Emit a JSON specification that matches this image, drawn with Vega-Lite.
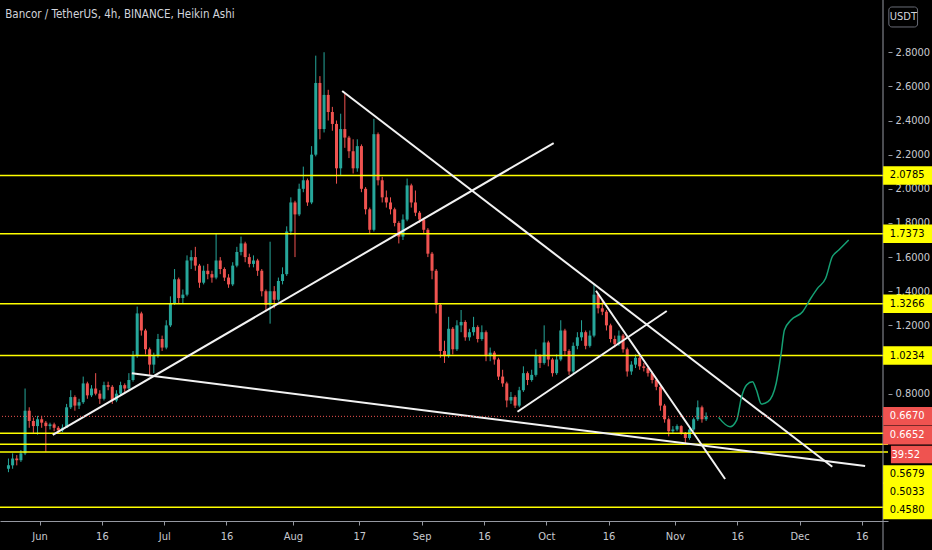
{
  "$schema": "https://vega.github.io/schema/vega-lite/v6.json",
  "width": 888,
  "height": 521,
  "autosize": {"type": "none"},
  "padding": {"left": 0, "top": 0, "right": 44, "bottom": 29},
  "background": "#000000",
  "title": {
    "text": "Bancor / TetherUS, 4h, BINANCE, Heikin Ashi",
    "anchor": "start",
    "offset": -21,
    "dx": 6,
    "fontSize": 11.5,
    "fontWeight": "normal",
    "font": "Liberation Sans Narrow, DejaVu Sans Condensed, sans-serif",
    "color": "#d1d4dc"
  },
  "config": {
    "view": {"stroke": null},
    "text": {"font": "Liberation Sans Narrow, DejaVu Sans Condensed, sans-serif"}
  },
  "datasets": {
    "candles": [
      {"t":"2020-05-24T12:00","o":0.36,"h":0.42,"l":0.34,"c":0.38},
      {"t":"2020-05-25T12:00","o":0.38,"h":0.45,"l":0.36,"c":0.42},
      {"t":"2020-05-26T12:00","o":0.42,"h":0.44,"l":0.38,"c":0.41},
      {"t":"2020-05-27T12:00","o":0.41,"h":0.47,"l":0.40,"c":0.45},
      {"t":"2020-05-28T12:00","o":0.45,"h":0.83,"l":0.44,"c":0.70},
      {"t":"2020-05-29T12:00","o":0.70,"h":0.72,"l":0.60,"c":0.64},
      {"t":"2020-05-30T12:00","o":0.64,"h":0.66,"l":0.57,"c":0.61},
      {"t":"2020-05-31T12:00","o":0.61,"h":0.67,"l":0.56,"c":0.65},
      {"t":"2020-06-01T12:00","o":0.65,"h":0.67,"l":0.60,"c":0.63},
      {"t":"2020-06-02T12:00","o":0.63,"h":0.64,"l":0.46,"c":0.61},
      {"t":"2020-06-03T12:00","o":0.61,"h":0.63,"l":0.59,"c":0.62},
      {"t":"2020-06-04T12:00","o":0.62,"h":0.63,"l":0.58,"c":0.60},
      {"t":"2020-06-05T12:00","o":0.60,"h":0.61,"l":0.57,"c":0.585},
      {"t":"2020-06-06T12:00","o":0.585,"h":0.62,"l":0.575,"c":0.60},
      {"t":"2020-06-07T12:00","o":0.60,"h":0.74,"l":0.60,"c":0.72},
      {"t":"2020-06-08T12:00","o":0.72,"h":0.82,"l":0.71,"c":0.78},
      {"t":"2020-06-09T12:00","o":0.78,"h":0.79,"l":0.70,"c":0.73},
      {"t":"2020-06-10T12:00","o":0.73,"h":0.77,"l":0.71,"c":0.75},
      {"t":"2020-06-11T12:00","o":0.75,"h":0.90,"l":0.74,"c":0.86},
      {"t":"2020-06-12T12:00","o":0.86,"h":0.87,"l":0.77,"c":0.79},
      {"t":"2020-06-13T12:00","o":0.79,"h":0.85,"l":0.78,"c":0.83},
      {"t":"2020-06-14T12:00","o":0.83,"h":0.92,"l":0.79,"c":0.80},
      {"t":"2020-06-15T12:00","o":0.80,"h":0.82,"l":0.74,"c":0.77},
      {"t":"2020-06-16T12:00","o":0.77,"h":0.87,"l":0.76,"c":0.85},
      {"t":"2020-06-17T12:00","o":0.85,"h":0.87,"l":0.82,"c":0.84},
      {"t":"2020-06-18T12:00","o":0.84,"h":0.85,"l":0.74,"c":0.76},
      {"t":"2020-06-19T12:00","o":0.76,"h":0.82,"l":0.75,"c":0.80},
      {"t":"2020-06-20T12:00","o":0.80,"h":0.87,"l":0.79,"c":0.85},
      {"t":"2020-06-21T12:00","o":0.85,"h":0.86,"l":0.81,"c":0.83},
      {"t":"2020-06-22T12:00","o":0.83,"h":0.92,"l":0.82,"c":0.88},
      {"t":"2020-06-23T12:00","o":0.88,"h":1.05,"l":0.87,"c":1.02},
      {"t":"2020-06-24T12:00","o":1.02,"h":1.31,"l":1.01,"c":1.27},
      {"t":"2020-06-25T12:00","o":1.27,"h":1.28,"l":1.14,"c":1.17},
      {"t":"2020-06-26T12:00","o":1.17,"h":1.18,"l":1.03,"c":1.06},
      {"t":"2020-06-27T12:00","o":1.06,"h":1.07,"l":0.91,"c":0.97},
      {"t":"2020-06-28T12:00","o":0.97,"h":1.04,"l":0.92,"c":1.02},
      {"t":"2020-06-29T12:00","o":1.02,"h":1.15,"l":1.01,"c":1.12},
      {"t":"2020-06-30T12:00","o":1.12,"h":1.14,"l":1.05,"c":1.07},
      {"t":"2020-07-01T12:00","o":1.07,"h":1.23,"l":1.06,"c":1.20},
      {"t":"2020-07-02T12:00","o":1.20,"h":1.37,"l":1.19,"c":1.33},
      {"t":"2020-07-03T12:00","o":1.33,"h":1.53,"l":1.32,"c":1.47},
      {"t":"2020-07-04T12:00","o":1.47,"h":1.48,"l":1.33,"c":1.36},
      {"t":"2020-07-05T12:00","o":1.36,"h":1.41,"l":1.33,"c":1.38},
      {"t":"2020-07-06T12:00","o":1.38,"h":1.61,"l":1.37,"c":1.58},
      {"t":"2020-07-07T12:00","o":1.58,"h":1.64,"l":1.53,"c":1.60},
      {"t":"2020-07-08T12:00","o":1.60,"h":1.66,"l":1.52,"c":1.55},
      {"t":"2020-07-09T12:00","o":1.55,"h":1.56,"l":1.42,"c":1.45},
      {"t":"2020-07-10T12:00","o":1.45,"h":1.55,"l":1.44,"c":1.52},
      {"t":"2020-07-11T12:00","o":1.52,"h":1.56,"l":1.47,"c":1.50},
      {"t":"2020-07-12T12:00","o":1.50,"h":1.52,"l":1.45,"c":1.48},
      {"t":"2020-07-13T12:00","o":1.48,"h":1.74,"l":1.47,"c":1.58},
      {"t":"2020-07-14T12:00","o":1.58,"h":1.60,"l":1.50,"c":1.53},
      {"t":"2020-07-15T12:00","o":1.53,"h":1.54,"l":1.46,"c":1.48},
      {"t":"2020-07-16T12:00","o":1.48,"h":1.50,"l":1.42,"c":1.44},
      {"t":"2020-07-17T12:00","o":1.44,"h":1.57,"l":1.43,"c":1.55},
      {"t":"2020-07-18T12:00","o":1.55,"h":1.66,"l":1.54,"c":1.63},
      {"t":"2020-07-19T12:00","o":1.63,"h":1.72,"l":1.61,"c":1.68},
      {"t":"2020-07-20T12:00","o":1.68,"h":1.69,"l":1.57,"c":1.60},
      {"t":"2020-07-21T12:00","o":1.60,"h":1.62,"l":1.54,"c":1.56},
      {"t":"2020-07-22T12:00","o":1.56,"h":1.61,"l":1.54,"c":1.58},
      {"t":"2020-07-23T12:00","o":1.58,"h":1.59,"l":1.49,"c":1.52},
      {"t":"2020-07-24T12:00","o":1.52,"h":1.53,"l":1.37,"c":1.40},
      {"t":"2020-07-25T12:00","o":1.40,"h":1.41,"l":1.28,"c":1.32},
      {"t":"2020-07-26T12:00","o":1.32,"h":1.69,"l":1.21,"c":1.40},
      {"t":"2020-07-27T12:00","o":1.40,"h":1.43,"l":1.30,"c":1.35},
      {"t":"2020-07-28T12:00","o":1.35,"h":1.48,"l":1.34,"c":1.46},
      {"t":"2020-07-29T12:00","o":1.46,"h":1.54,"l":1.44,"c":1.50},
      {"t":"2020-07-30T12:00","o":1.50,"h":1.78,"l":1.49,"c":1.75},
      {"t":"2020-07-31T12:00","o":1.75,"h":1.95,"l":1.73,"c":1.92},
      {"t":"2020-08-01T12:00","o":1.92,"h":1.93,"l":1.60,"c":1.85},
      {"t":"2020-08-02T12:00","o":1.85,"h":2.03,"l":1.84,"c":2.00},
      {"t":"2020-08-03T12:00","o":2.00,"h":2.13,"l":1.98,"c":2.05},
      {"t":"2020-08-04T12:00","o":2.05,"h":2.06,"l":1.90,"c":1.92},
      {"t":"2020-08-05T12:00","o":1.92,"h":2.25,"l":1.91,"c":2.20},
      {"t":"2020-08-06T12:00","o":2.20,"h":2.78,"l":2.19,"c":2.62},
      {"t":"2020-08-07T12:00","o":2.62,"h":2.66,"l":2.29,"c":2.35},
      {"t":"2020-08-08T12:00","o":2.35,"h":2.80,"l":2.33,"c":2.55},
      {"t":"2020-08-09T12:00","o":2.55,"h":2.58,"l":2.40,"c":2.45},
      {"t":"2020-08-10T12:00","o":2.45,"h":2.48,"l":2.34,"c":2.38},
      {"t":"2020-08-11T12:00","o":2.38,"h":2.40,"l":2.03,"c":2.12},
      {"t":"2020-08-12T12:00","o":2.12,"h":2.44,"l":2.08,"c":2.35},
      {"t":"2020-08-13T12:00","o":2.35,"h":2.56,"l":2.24,"c":2.30},
      {"t":"2020-08-14T12:00","o":2.30,"h":2.31,"l":2.18,"c":2.22},
      {"t":"2020-08-15T12:00","o":2.22,"h":2.29,"l":2.09,"c":2.12},
      {"t":"2020-08-16T12:00","o":2.12,"h":2.29,"l":2.10,"c":2.25},
      {"t":"2020-08-17T12:00","o":2.25,"h":2.26,"l":1.98,"c":2.00},
      {"t":"2020-08-18T12:00","o":2.00,"h":2.01,"l":1.85,"c":1.88},
      {"t":"2020-08-19T12:00","o":1.88,"h":1.89,"l":1.74,"c":1.76},
      {"t":"2020-08-20T12:00","o":1.76,"h":2.41,"l":1.75,"c":2.32},
      {"t":"2020-08-21T12:00","o":2.32,"h":2.33,"l":2.02,"c":2.05},
      {"t":"2020-08-22T12:00","o":2.05,"h":2.07,"l":1.92,"c":1.95},
      {"t":"2020-08-23T12:00","o":1.95,"h":1.99,"l":1.89,"c":1.92},
      {"t":"2020-08-24T12:00","o":1.92,"h":1.95,"l":1.85,"c":1.88},
      {"t":"2020-08-25T12:00","o":1.88,"h":1.89,"l":1.78,"c":1.80},
      {"t":"2020-08-26T12:00","o":1.80,"h":1.81,"l":1.68,"c":1.72},
      {"t":"2020-08-27T12:00","o":1.72,"h":1.85,"l":1.70,"c":1.82},
      {"t":"2020-08-28T12:00","o":1.82,"h":2.06,"l":1.81,"c":2.02},
      {"t":"2020-08-29T12:00","o":2.02,"h":2.03,"l":1.89,"c":1.92},
      {"t":"2020-08-30T12:00","o":1.92,"h":1.99,"l":1.84,"c":1.86},
      {"t":"2020-08-31T12:00","o":1.86,"h":1.87,"l":1.80,"c":1.82},
      {"t":"2020-09-01T12:00","o":1.82,"h":1.83,"l":1.74,"c":1.76},
      {"t":"2020-09-02T12:00","o":1.76,"h":1.77,"l":1.60,"c":1.62},
      {"t":"2020-09-03T12:00","o":1.62,"h":1.63,"l":1.47,"c":1.52},
      {"t":"2020-09-04T12:00","o":1.52,"h":1.53,"l":1.27,"c":1.32},
      {"t":"2020-09-05T12:00","o":1.32,"h":1.33,"l":1.01,"c":1.05},
      {"t":"2020-09-06T12:00","o":1.05,"h":1.11,"l":0.98,"c":1.02},
      {"t":"2020-09-07T12:00","o":1.02,"h":1.25,"l":1.01,"c":1.18},
      {"t":"2020-09-08T12:00","o":1.18,"h":1.19,"l":1.03,"c":1.06},
      {"t":"2020-09-09T12:00","o":1.06,"h":1.23,"l":1.05,"c":1.20},
      {"t":"2020-09-10T12:00","o":1.20,"h":1.29,"l":1.16,"c":1.22},
      {"t":"2020-09-11T12:00","o":1.22,"h":1.23,"l":1.11,"c":1.13},
      {"t":"2020-09-12T12:00","o":1.13,"h":1.18,"l":1.11,"c":1.16},
      {"t":"2020-09-13T12:00","o":1.16,"h":1.25,"l":1.14,"c":1.19},
      {"t":"2020-09-14T12:00","o":1.19,"h":1.20,"l":1.10,"c":1.12},
      {"t":"2020-09-15T12:00","o":1.12,"h":1.20,"l":1.11,"c":1.16},
      {"t":"2020-09-16T12:00","o":1.16,"h":1.17,"l":0.99,"c":1.02},
      {"t":"2020-09-17T12:00","o":1.02,"h":1.07,"l":0.99,"c":1.04},
      {"t":"2020-09-18T12:00","o":1.04,"h":1.05,"l":0.97,"c":1.00},
      {"t":"2020-09-19T12:00","o":1.00,"h":1.01,"l":0.88,"c":0.90},
      {"t":"2020-09-20T12:00","o":0.90,"h":0.94,"l":0.84,"c":0.86},
      {"t":"2020-09-21T12:00","o":0.86,"h":0.87,"l":0.72,"c":0.76},
      {"t":"2020-09-22T12:00","o":0.76,"h":0.81,"l":0.74,"c":0.78},
      {"t":"2020-09-23T12:00","o":0.78,"h":0.79,"l":0.716,"c":0.73},
      {"t":"2020-09-24T12:00","o":0.73,"h":0.84,"l":0.72,"c":0.82},
      {"t":"2020-09-25T12:00","o":0.82,"h":0.96,"l":0.81,"c":0.92},
      {"t":"2020-09-26T12:00","o":0.92,"h":0.93,"l":0.85,"c":0.88},
      {"t":"2020-09-27T12:00","o":0.88,"h":0.94,"l":0.87,"c":0.91},
      {"t":"2020-09-28T12:00","o":0.91,"h":1.06,"l":0.90,"c":1.02},
      {"t":"2020-09-29T12:00","o":1.02,"h":1.03,"l":0.95,"c":0.98},
      {"t":"2020-09-30T12:00","o":0.98,"h":1.20,"l":0.97,"c":1.10},
      {"t":"2020-10-01T12:00","o":1.10,"h":1.11,"l":0.96,"c":1.00},
      {"t":"2020-10-02T12:00","o":1.00,"h":1.01,"l":0.90,"c":0.92},
      {"t":"2020-10-03T12:00","o":0.92,"h":1.03,"l":0.91,"c":1.00},
      {"t":"2020-10-04T12:00","o":1.00,"h":1.23,"l":0.99,"c":1.17},
      {"t":"2020-10-05T12:00","o":1.17,"h":1.18,"l":1.02,"c":1.05},
      {"t":"2020-10-06T12:00","o":1.05,"h":1.06,"l":0.91,"c":0.93},
      {"t":"2020-10-07T12:00","o":0.93,"h":1.10,"l":0.92,"c":1.08},
      {"t":"2020-10-08T12:00","o":1.08,"h":1.16,"l":1.06,"c":1.13},
      {"t":"2020-10-09T12:00","o":1.13,"h":1.23,"l":1.11,"c":1.16},
      {"t":"2020-10-10T12:00","o":1.16,"h":1.17,"l":1.06,"c":1.08},
      {"t":"2020-10-11T12:00","o":1.08,"h":1.17,"l":1.07,"c":1.14},
      {"t":"2020-10-12T12:00","o":1.14,"h":1.44,"l":1.13,"c":1.38},
      {"t":"2020-10-13T12:00","o":1.38,"h":1.39,"l":1.27,"c":1.30},
      {"t":"2020-10-14T12:00","o":1.30,"h":1.35,"l":1.26,"c":1.28},
      {"t":"2020-10-15T12:00","o":1.28,"h":1.29,"l":1.17,"c":1.20},
      {"t":"2020-10-16T12:00","o":1.20,"h":1.21,"l":1.10,"c":1.12},
      {"t":"2020-10-17T12:00","o":1.12,"h":1.14,"l":1.07,"c":1.09},
      {"t":"2020-10-18T12:00","o":1.09,"h":1.17,"l":1.08,"c":1.14},
      {"t":"2020-10-19T12:00","o":1.14,"h":1.15,"l":1.04,"c":1.06},
      {"t":"2020-10-20T12:00","o":1.06,"h":1.07,"l":0.90,"c":0.93},
      {"t":"2020-10-21T12:00","o":0.93,"h":0.99,"l":0.91,"c":0.97},
      {"t":"2020-10-22T12:00","o":0.97,"h":1.03,"l":0.95,"c":1.01},
      {"t":"2020-10-23T12:00","o":1.01,"h":1.02,"l":0.94,"c":0.96},
      {"t":"2020-10-24T12:00","o":0.96,"h":0.98,"l":0.93,"c":0.95},
      {"t":"2020-10-25T12:00","o":0.95,"h":0.96,"l":0.90,"c":0.92},
      {"t":"2020-10-26T12:00","o":0.92,"h":0.93,"l":0.86,"c":0.88},
      {"t":"2020-10-27T12:00","o":0.88,"h":0.89,"l":0.82,"c":0.84},
      {"t":"2020-10-28T12:00","o":0.84,"h":0.85,"l":0.70,"c":0.73},
      {"t":"2020-10-29T12:00","o":0.73,"h":0.74,"l":0.63,"c":0.65},
      {"t":"2020-10-30T12:00","o":0.65,"h":0.66,"l":0.55,"c":0.58},
      {"t":"2020-10-31T12:00","o":0.58,"h":0.61,"l":0.57,"c":0.59},
      {"t":"2020-11-01T12:00","o":0.59,"h":0.62,"l":0.58,"c":0.61},
      {"t":"2020-11-02T12:00","o":0.61,"h":0.615,"l":0.56,"c":0.57},
      {"t":"2020-11-03T12:00","o":0.57,"h":0.575,"l":0.51,"c":0.54},
      {"t":"2020-11-04T12:00","o":0.54,"h":0.60,"l":0.53,"c":0.59},
      {"t":"2020-11-05T12:00","o":0.59,"h":0.66,"l":0.58,"c":0.65},
      {"t":"2020-11-06T12:00","o":0.65,"h":0.76,"l":0.64,"c":0.72},
      {"t":"2020-11-07T12:00","o":0.72,"h":0.73,"l":0.63,"c":0.65},
      {"t":"2020-11-08T12:00","o":0.65,"h":0.69,"l":0.64,"c":0.667}
    ],
    "levels": [
      {"p": 2.0785}, {"p": 1.7373}, {"p": 1.3266}, {"p": 1.0234},
      {"p": 0.5679}, {"p": 0.5033}, {"p": 0.458}, {"p": 0.134}
    ],
    "lines": [
      {"id": 1, "t": "2020-06-04T04:00", "p": 0.558},
      {"id": 1, "t": "2020-10-02T19:00", "p": 2.268},
      {"id": 2, "t": "2020-08-12T20:40", "p": 2.573},
      {"id": 2, "t": "2020-12-08T21:00", "p": 0.372},
      {"id": 3, "t": "2020-06-23T05:00", "p": 0.919},
      {"id": 3, "t": "2020-12-16T19:00", "p": 0.376},
      {"id": 4, "t": "2020-09-24T01:40", "p": 0.694},
      {"id": 4, "t": "2020-10-30T00:30", "p": 1.284},
      {"id": 5, "t": "2020-10-12T23:30", "p": 1.403},
      {"id": 5, "t": "2020-11-13T01:40", "p": 0.300}
    ],
    "path": [
      {"t": "2020-11-11T12:00", "p": 0.661},
      {"t": "2020-11-14T06:15", "p": 0.606},
      {"t": "2020-11-15T20:40", "p": 0.645},
      {"t": "2020-11-17T01:10", "p": 0.782},
      {"t": "2020-11-18T05:45", "p": 0.851},
      {"t": "2020-11-19T16:00", "p": 0.870},
      {"t": "2020-11-20T15:00", "p": 0.821},
      {"t": "2020-11-21T19:25", "p": 0.739},
      {"t": "2020-11-23T09:40", "p": 0.753},
      {"t": "2020-11-25T09:00", "p": 0.861},
      {"t": "2020-11-26T13:40", "p": 1.036},
      {"t": "2020-11-27T08:40", "p": 1.173},
      {"t": "2020-11-28T22:50", "p": 1.231},
      {"t": "2020-12-01T17:45", "p": 1.280},
      {"t": "2020-12-03T17:00", "p": 1.359},
      {"t": "2020-12-05T07:25", "p": 1.417},
      {"t": "2020-12-07T07:00", "p": 1.476},
      {"t": "2020-12-08T21:00", "p": 1.602},
      {"t": "2020-12-10T10:50", "p": 1.641},
      {"t": "2020-12-12T20:00", "p": 1.700}
    ],
    "tags": [
      {"txt": "2.0785", "at": 2.0785, "kind": "level"},
      {"txt": "1.7373", "at": 1.7373, "kind": "level"},
      {"txt": "1.3266", "at": 1.3266, "kind": "level"},
      {"txt": "1.0234", "at": 1.0234, "kind": "level"},
      {"txt": "0.6670", "at": 0.667, "kind": "price"},
      {"txt": "0.6652", "at": 0.556, "kind": "price"},
      {"txt": "39:52", "at": 0.443, "kind": "timer"},
      {"txt": "0.5679", "at": 0.327, "kind": "level"},
      {"txt": "0.5033", "at": 0.225, "kind": "level"},
      {"txt": "0.4580", "at": 0.118, "kind": "level"}
    ]
  },
  "layer": [
    {
      "data": {"name": "candles"},
      "mark": {"type": "rule", "strokeWidth": 1},
      "encoding": {
        "x": {
          "field": "t", "type": "temporal",
          "scale": {"domain": [
            {"year": 2020, "month": 5, "date": 23, "hours": 16},
            {"year": 2020, "month": 12, "date": 21, "hours": 2, "minutes": 17}
          ]},
          "axis": {
            "orient": "bottom", "title": null, "grid": false,
            "values": [
              {"year": 2020, "month": 6, "date": 1}, {"year": 2020, "month": 6, "date": 16},
              {"year": 2020, "month": 7, "date": 1}, {"year": 2020, "month": 7, "date": 16},
              {"year": 2020, "month": 8, "date": 1}, {"year": 2020, "month": 8, "date": 17},
              {"year": 2020, "month": 9, "date": 1}, {"year": 2020, "month": 9, "date": 16},
              {"year": 2020, "month": 10, "date": 1}, {"year": 2020, "month": 10, "date": 16},
              {"year": 2020, "month": 11, "date": 1}, {"year": 2020, "month": 11, "date": 16},
              {"year": 2020, "month": 12, "date": 1}, {"year": 2020, "month": 12, "date": 16}
            ],
            "labelExpr": "date(datum.value) == 1 ? timeFormat(datum.value, '%b') : timeFormat(datum.value, '%-d')",
            "domainColor": "#9598a1", "tickColor": "#9598a1", "tickSize": 4,
            "labelColor": "#c8cad0", "labelFontSize": 11, "labelPadding": 5,
            "labelFont": "Liberation Sans Narrow, DejaVu Sans Condensed, sans-serif",
            "labelOverlap": false, "labelFlush": false
          }
        },
        "y": {
          "field": "l", "type": "quantitative",
          "scale": {"domain": [0.054, 3.106], "nice": false, "zero": false},
          "axis": {
            "orient": "right", "title": null, "grid": false, "domain": false,
            "values": [0.8, 1.2, 1.4, 1.6, 1.8, 2.0, 2.2, 2.4, 2.6, 2.8],
            "format": ".4f",
            "tickColor": "#9598a1", "tickSize": 4,
            "labelColor": "#c8cad0", "labelFontSize": 11, "labelPadding": 3,
            "labelOverlap": false, "labelFlush": false,
            "labelFont": "Liberation Sans Narrow, DejaVu Sans Condensed, sans-serif"
          }
        },
        "y2": {"field": "h"},
        "color": {"condition": {"test": "datum.c >= datum.o", "value": "#26a69a"}, "value": "#ef5350"}
      }
    },
    {
      "data": {"name": "candles"},
      "mark": {"type": "bar", "width": 3},
      "encoding": {
        "x": {"field": "t", "type": "temporal"},
        "y": {"field": "o", "type": "quantitative"},
        "y2": {"field": "c"},
        "color": {"condition": {"test": "datum.c >= datum.o", "value": "#26a69a"}, "value": "#ef5350"}
      }
    },
    {
      "data": {"name": "levels"},
      "mark": {"type": "rule", "color": "#ffff00", "strokeWidth": 1.5},
      "encoding": {"y": {"field": "p", "type": "quantitative"}}
    },
    {
      "data": {"name": "lines"},
      "mark": {"type": "line", "color": "#f2f2f2", "strokeWidth": 2},
      "encoding": {
        "x": {"field": "t", "type": "temporal"},
        "y": {"field": "p", "type": "quantitative"},
        "detail": {"field": "id"}
      }
    },
    {
      "data": {"name": "path"},
      "mark": {"type": "line", "color": "#15a074", "strokeWidth": 1.5, "interpolate": "monotone"},
      "encoding": {
        "x": {"field": "t", "type": "temporal"},
        "y": {"field": "p", "type": "quantitative"}
      }
    },
    {
      "data": {"values": [{}]},
      "mark": {"type": "rule", "color": "#ef5350", "strokeWidth": 1, "strokeDash": [1, 2]},
      "encoding": {"y": {"datum": 0.667, "type": "quantitative"}}
    },
    {
      "data": {"values": [{}]},
      "mark": {"type": "rule", "color": "#9598a1", "strokeWidth": 1},
      "encoding": {
        "x": {"datum": {"year": 2020, "month": 12, "date": 21, "hours": 2, "minutes": 17}, "type": "temporal"},
        "y": {"datum": 3.106, "type": "quantitative"},
        "y2": {"datum": -0.116}
      }
    },
    {
      "data": {"name": "tags"},
      "transform": [{"filter": "datum.kind != 'timer'"}],
      "mark": {"type": "rule", "strokeWidth": 18.5, "strokeCap": "butt"},
      "encoding": {
        "x": {"datum": {"year": 2020, "month": 12, "date": 21, "hours": 3}, "type": "temporal"},
        "x2": {"datum": {"year": 2021, "month": 1, "date": 3}},
        "y": {"field": "at", "type": "quantitative"},
        "color": {"condition": {"test": "datum.kind == 'price'", "value": "#ef5350"}, "value": "#ffff00"}
      }
    },
    {
      "data": {"name": "tags"},
      "transform": [{"filter": "datum.kind == 'timer'"}],
      "mark": {"type": "rule", "strokeWidth": 17.5, "strokeCap": "butt", "color": "#ef5350"},
      "encoding": {
        "x": {"datum": {"year": 2020, "month": 12, "date": 23}, "type": "temporal"},
        "x2": {"datum": {"year": 2021, "month": 1, "date": 3}},
        "y": {"field": "at", "type": "quantitative"}
      }
    },
    {
      "data": {"name": "tags"},
      "transform": [{"filter": "datum.kind != 'timer'"}],
      "mark": {"type": "text", "align": "left", "baseline": "middle", "fontSize": 11},
      "encoding": {
        "x": {"datum": {"year": 2020, "month": 12, "date": 22, "hours": 18}, "type": "temporal"},
        "y": {"field": "at", "type": "quantitative"},
        "text": {"field": "txt"},
        "color": {"condition": {"test": "datum.kind == 'price'", "value": "#ffffff"}, "value": "#000000"}
      }
    },
    {
      "data": {"name": "tags"},
      "transform": [{"filter": "datum.kind == 'timer'"}],
      "mark": {"type": "text", "align": "center", "baseline": "middle", "fontSize": 11, "color": "#ffffff"},
      "encoding": {
        "x": {"datum": {"year": 2020, "month": 12, "date": 26, "hours": 14}, "type": "temporal"},
        "y": {"field": "at", "type": "quantitative"},
        "text": {"field": "txt"}
      }
    },
    {
      "data": {"values": [{"unit": "USDT"}]},
      "mark": {"type": "rect", "fill": "#000000", "stroke": "#6a6d78", "strokeWidth": 1, "cornerRadius": 3},
      "encoding": {
        "x": {"datum": {"year": 2020, "month": 12, "date": 22, "hours": 12}, "type": "temporal"},
        "x2": {"datum": {"year": 2020, "month": 12, "date": 29, "hours": 10}},
        "y": {"datum": 3.065, "type": "quantitative"},
        "y2": {"datum": 2.948}
      }
    },
    {
      "data": {"values": [{"unit": "USDT"}]},
      "mark": {"type": "text", "align": "center", "baseline": "middle", "fontSize": 11, "color": "#d1d4dc"},
      "encoding": {
        "x": {"datum": {"year": 2020, "month": 12, "date": 26}, "type": "temporal"},
        "y": {"datum": 3.006, "type": "quantitative"},
        "text": {"field": "unit"}
      }
    }
  ]
}
